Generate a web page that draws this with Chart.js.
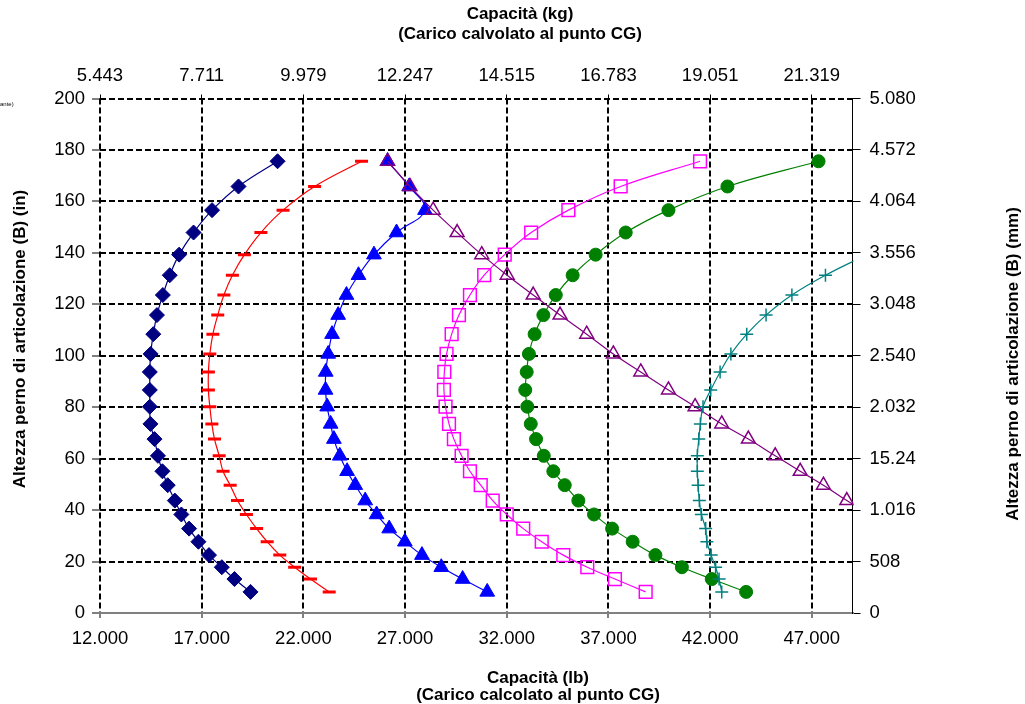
<!DOCTYPE html>
<html><head><meta charset="utf-8">
<script src="https://cdn.jsdelivr.net/npm/chart.js@4.4.0/dist/chart.umd.min.js"></script>
<style>html,body{margin:0;padding:0;background:#fff;}#wrap{width:1025px;height:704px;}</style>
</head><body><div id="wrap"><canvas id="c" width="1025" height="704"></canvas></div>
<script>
// Heights (in) shared by all series
const heights = [175.6,165.8,156.6,147.9,139.3,131.3,123.6,115.8,108.4,100.7,93.7,86.7,80.2,73.5,67.6,61.1,55.1,49.7,43.7,38.3,32.8,27.7,22.5,17.8,13.2,8.2];
// Capacity (lb) per series
const navyX    = [20730,18810,17510,16600,15890,15430,15090,14800,14620,14490,14450,14450,14450,14480,14680,14850,15070,15330,15680,16000,16380,16840,17360,17990,18610,19400];
const redX     = [24860,22550,21000,19910,19100,18510,18090,17790,17550,17400,17330,17330,17400,17500,17630,17860,18050,18400,18760,19200,19700,20220,20840,21570,22350,23270];
const blueX    = [26140,27200,27980,26580,25470,24710,24120,23710,23410,23220,23100,23090,23170,23340,23500,23790,24150,24550,25040,25600,26220,26990,27830,28780,29830,31040];
const magentaX = [41505,37600,35030,33200,31900,30890,30190,29650,29290,29040,28930,28910,28990,29160,29400,29780,30190,30720,31310,32000,32810,33720,34780,35960,37320,38830];
const greenX   = [47330,42850,39950,37850,36370,35240,34410,33800,33370,33090,32980,32910,33010,33180,33440,33820,34290,34850,35520,36290,37180,38190,39310,40610,42080,43770];
const purpleX  = [26140,27240,28380,29560,30770,32020,33300,34620,35930,37240,38590,39950,41260,42570,43880,45200,46430,47570,48720,49850]; // heights[0..]
const tealX    = [49700,47670,46020,44750,43800,43020,42490,42030,41650,41520,41440,41370,41370,41410,41470,41570,41780,41840,42050,42270,42440,42570]; // heights[4..]
const tealStart = 4;

const xTickValues = [12000,17000,22000,27000,32000,37000,42000,47000];
const xTickLabels = ['12.000','17.000','22.000','27.000','32.000','37.000','42.000','47.000'];
const topTickLabels = ['5.443','7.711','9.979','12.247','14.515','16.783','19.051','21.319'];
const yTickLabels = ['0','20','40','60','80','100','120','140','160','180','200'];
const rightTickLabels = ['0','508','1.016','15.24','2.032','2.540','3.048','3.556','4.064','4.572','5.080'];

const topTitle = ['Capacità (kg)','(Carico calvolato al punto CG)'];
const bottomTitle = ['Capacità (lb)','(Carico calcolato al punto CG)'];
const leftTitle = 'Altezza perno di articolazione (B) (in)';
const rightTitle = 'Altezza perno di articolazione (B) (mm)';
const cornerNote = 'ante)';

const FONT = "'Liberation Sans', Arial, sans-serif";
const TICKFONT = {family: FONT, size: 18.5};

function pts(xs, start){ return xs.map((x,i)=>({x:x, y:heights[start+i]})); }

function ds(label, xs, start, color, style, radius, filled, bw, order){
  return {label, data: pts(xs,start), showLine:true, tension:0.4, borderColor:color, borderWidth:1.2,
    pointStyle:style, pointRadius:radius, pointHoverRadius:radius,
    pointBackgroundColor: filled ? color : 'rgba(0,0,0,0)', pointBorderColor:color, pointBorderWidth:bw,
    fill:false, order, clip:{left:12, top:12, right:1, bottom:12}};
}

const titlesPlugin = {
  id:'titles',
  beforeDraw(chart){ const c=chart.ctx; c.save(); c.fillStyle='#fff'; c.fillRect(0,0,chart.width,chart.height); c.restore(); },
  afterDraw(chart){
    const c=chart.ctx; c.save(); c.fillStyle='#000';
    c.font='bold 17px '+FONT; c.textAlign='center'; c.textBaseline='middle';
    c.fillText(topTitle[0],520,14); c.fillText(topTitle[1],520,34);
    c.fillText(bottomTitle[0],538,678); c.fillText(bottomTitle[1],538,695);
    c.save(); c.translate(20,339); c.rotate(-Math.PI/2); c.fillText(leftTitle,0,0); c.restore();
    c.save(); c.translate(1013,364); c.rotate(-Math.PI/2); c.fillText(rightTitle,0,0); c.restore();
    c.font='6px '+FONT; c.textAlign='left'; c.fillText(cornerNote,0,104);
    c.restore();
  }
};

const setTicks = s => { s.ticks = xTickValues.map(v=>({value:v})); };

new Chart(document.getElementById('c'), {
  type:'scatter',
  data:{ datasets:[
    ds('A', navyX, 0, '#000080', 'rectRot', 7.5, true, 1, 7),
    ds('B', redX, 0, '#FF0000', 'line', 6.5, true, 3, 6),
    ds('C', blueX, 0, '#0000FF', 'triangle', 8.5, true, 1, 5),
    ds('D', magentaX, 0, '#FF00FF', 'rect', 9, false, 1.5, 4),
    ds('E', greenX, 0, '#008000', 'circle', 6.5, true, 1, 3),
    ds('F', purpleX, 0, '#800080', 'triangle', 8, false, 1.5, 2),
    ds('G', tealX, tealStart, '#008080', 'cross', 6.5, false, 1.5, 1)
  ]},
  options:{
    responsive:false, animation:false, events:[],
    layout:{padding:0},
    plugins:{legend:{display:false}, tooltip:{enabled:false}},
    scales:{
      x:{type:'linear', position:'bottom', min:12000, max:49000, afterBuildTicks:setTicks,
        afterFit:s=>{s.height=91;},
        ticks:{callback:(v,i)=>xTickLabels[i], color:'#000', font:TICKFONT, padding:10, maxRotation:0, autoSkip:false},
        grid:{color:'#000', lineWidth:2, tickLength:5, tickColor:'#000', tickWidth:1},
        border:{display:true, color:'#808080', width:2, dash:[6,3]}},
      x2:{type:'linear', position:'top', min:12000, max:49000, afterBuildTicks:setTicks,
        afterFit:s=>{s.height=98.5;},
        ticks:{callback:(v,i)=>topTickLabels[i], color:'#000', font:TICKFONT, padding:7, maxRotation:0, autoSkip:false},
        grid:{drawOnChartArea:false, tickLength:4, tickColor:'#000', tickWidth:1, color:'#000'},
        border:{display:false}},
      y:{type:'linear', position:'left', min:0, max:200,
        afterFit:s=>{s.width=100;},
        ticks:{stepSize:20, callback:(v,i)=>yTickLabels[i], color:'#000', font:TICKFONT, padding:7},
        grid:{color:c=>(c.tick && c.tick.value===0)?'rgba(0,0,0,0)':'#000', lineWidth:2, tickLength:8, tickColor:'#000', tickWidth:1},
        border:{display:false, dash:[6,3]}},
      y2:{type:'linear', position:'right', min:0, max:200,
        afterFit:s=>{s.width=172.5;},
        ticks:{stepSize:20, callback:(v,i)=>rightTickLabels[i], color:'#000', font:TICKFONT, padding:9},
        grid:{drawOnChartArea:false, tickLength:8, tickColor:'#000', tickWidth:1, color:'#000'},
        border:{display:true, color:'#000', width:1}}
    }
  },
  plugins:[titlesPlugin]
});
</script></body></html>
